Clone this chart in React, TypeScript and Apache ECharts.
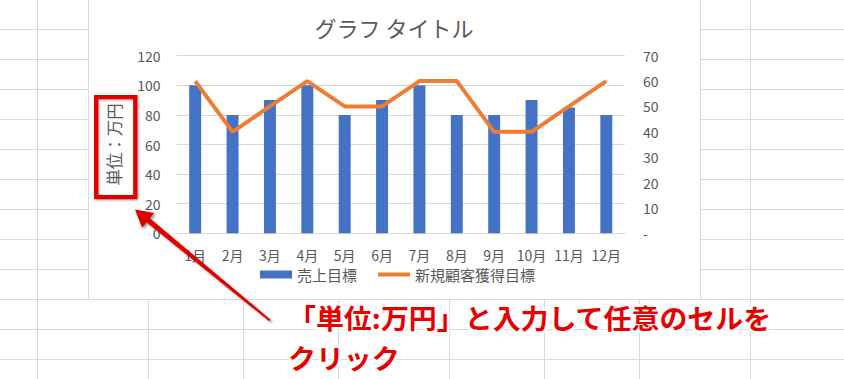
import React, { useEffect, useRef } from "react";
import * as echarts from "echarts";

// ---- data ----
const months = ["1月", "2月", "3月", "4月", "5月", "6月", "7月", "8月", "9月", "10月", "11月", "12月"];
const seriesNames = ["売上目標", "新規顧客獲得目標"];
const salesTarget = [100, 80, 90, 100, 80, 90, 100, 80, 80, 90, 85, 80];
const newCustomerTarget = [60, 40, 50, 60, 50, 50, 60, 60, 40, 40, 50, 60];
const leftTickLabels = ["0", "20", "40", "60", "80", "100", "120"];
const rightTickLabels = ["-", "10", "20", "30", "40", "50", "60", "70"];
const chartTitle = "グラフ タイトル";
const axisTitle = "単位：万円";
const noteLines = ["「単位:万円」と入力して任意のセルを", "クリック"];

// ---- layout (decoration: spreadsheet grid) ----
const sheetRows = [29.5, 59.5, 89.5, 119.5, 149.5, 179.5, 209.5, 239.5, 269.5, 299.5, 329.5, 359.5];
const sheetCols = [37.5, 148.5, 243.5, 338.5, 449.5, 544.5, 639.5, 750.5];

const FONT = '"Noto Sans CJK JP", "Noto Sans", sans-serif';
const GRAY = "#595959";

function arrowPoints(tail: number[], tip: number[], tailW: number, baseW: number, headLen: number, headW: number) {
  const dx = tip[0] - tail[0];
  const dy = tip[1] - tail[1];
  const L = Math.sqrt(dx * dx + dy * dy);
  const ux = dx / L, uy = dy / L;
  const nx = -uy, ny = ux;
  const bx = tip[0] - ux * headLen, by = tip[1] - uy * headLen;
  return [
    [tail[0] + nx * tailW, tail[1] + ny * tailW],
    [bx + nx * baseW, by + ny * baseW],
    [bx + nx * headW, by + ny * headW],
    [tip[0], tip[1]],
    [bx - nx * headW, by - ny * headW],
    [bx - nx * baseW, by - ny * baseW],
    [tail[0] - nx * tailW, tail[1] - ny * tailW],
  ];
}

export default function App() {
  const ref = useRef<HTMLDivElement>(null);
  useEffect(() => {
    if (!ref.current) return;
    const chart = echarts.init(ref.current, undefined, { renderer: "svg" });

    const bg: any[] = [];
    sheetRows.forEach((y) =>
      bg.push({ type: "line", z: -10, shape: { x1: 0, y1: y, x2: 844, y2: y }, style: { stroke: "#dadada", lineWidth: 1 } })
    );
    sheetCols.forEach((x) =>
      bg.push({ type: "line", z: -10, shape: { x1: x, y1: 0, x2: x, y2: 379 }, style: { stroke: "#dadada", lineWidth: 1 } })
    );
    bg.push({
      type: "rect",
      z: -9,
      shape: { x: 88.5, y: -5, width: 612, height: 304.5 },
      style: { fill: "#ffffff", stroke: "#d9d9d9", lineWidth: 1 },
    });

    const arrow = arrowPoints([270, 320.5], [135, 209.5], 1, 2.6, 17, 9.5);

    const fg: any[] = [
      {
        type: "rect",
        z: 100,
        shape: { x: 96.2, y: 97.2, width: 39.1, height: 100 },
        style: {
          fill: "none",
          stroke: "#e00000",
          lineWidth: 4.3,
          shadowColor: "rgba(0,0,0,0.35)",
          shadowBlur: 2,
          shadowOffsetX: 1,
          shadowOffsetY: 1,
        },
      },
      {
        type: "polygon",
        z: 100,
        shape: { points: arrow },
        style: {
          fill: "#dd0000",
          shadowColor: "rgba(0,0,0,0.45)",
          shadowBlur: 2,
          shadowOffsetX: 1.5,
          shadowOffsetY: 1.5,
        },
      },
      {
        type: "text",
        z: 100,
        x: 288,
        y: 297.5,
        scaleX: 1.035,
        style: {
          text: noteLines.join("\n"),
          fontFamily: FONT,
          fontSize: 27,
          fontWeight: "bold",
          lineHeight: 39.5,
          fill: "#e60000",
          stroke: "#ffffff",
          lineWidth: 5,
          strokeFirst: true,
          verticalAlign: "top",
          align: "left",
          shadowColor: "rgba(0,0,0,0.4)",
          shadowBlur: 3,
          shadowOffsetX: 2,
          shadowOffsetY: 2,
        },
      },
    ];

    chart.setOption({
      animation: false,
      backgroundColor: "#ffffff",
      textStyle: { fontFamily: FONT },
      title: {
        text: chartTitle,
        left: 394,
        top: 16,
        padding: 0,
        textAlign: "center",
        textStyle: { fontFamily: FONT, fontSize: 22, fontWeight: "normal", color: GRAY },
      },
      legend: {
        left: 260,
        top: 267,
        padding: 0,
        itemWidth: 32,
        itemHeight: 8,
        itemGap: 21,
        textStyle: { fontFamily: FONT, fontSize: 15, color: GRAY },
        data: [
          { name: seriesNames[0], icon: "rect" },
          { name: seriesNames[1], icon: "path://M0 0 M0 8 M0 2 L32 2 L32 6 L0 6 Z" },
        ],
      },
      grid: { left: 176.5, right: 219, top: 55.7, bottom: 145.7, containLabel: false },
      xAxis: {
        type: "category",
        data: months,
        axisLine: { show: true, lineStyle: { color: "#d9d9d9", width: 1 } },
        axisTick: { show: false },
        axisLabel: { color: GRAY, fontSize: 14, margin: 15, fontFamily: FONT, interval: 0 },
      },
      yAxis: [
        {
          type: "value",
          min: 0,
          max: 120,
          interval: 20,
          name: axisTitle,
          nameLocation: "middle",
          nameRotate: 90,
          nameGap: 54,
          nameTextStyle: { color: GRAY, fontSize: 16.5, fontFamily: FONT },
          axisLine: { show: false },
          axisTick: { show: false },
          axisLabel: {
            color: GRAY,
            fontSize: 14,
            margin: 16,
            fontFamily: FONT,
            formatter: (v: number) => leftTickLabels[Math.round(v / 20)] ?? String(v),
          },
          splitLine: { show: true, lineStyle: { color: "#d9d9d9", width: 1 } },
        },
        {
          type: "value",
          position: "right",
          min: 0,
          max: 70,
          interval: 10,
          axisLine: { show: false },
          axisTick: { show: false },
          axisLabel: {
            color: GRAY,
            fontSize: 14,
            margin: 18,
            fontFamily: FONT,
            formatter: (v: number) => rightTickLabels[Math.round(v / 10)] ?? String(v),
          },
          splitLine: { show: false },
        },
      ],
      series: [
        {
          name: seriesNames[0],
          type: "bar",
          data: salesTarget,
          barWidth: "32%",
          itemStyle: { color: "#4472C4" },
          yAxisIndex: 0,
        },
        {
          name: seriesNames[1],
          type: "line",
          data: newCustomerTarget,
          yAxisIndex: 1,
          symbol: "none",
          lineStyle: { color: "#ED7D31", width: 4 },
          itemStyle: { color: "#ED7D31" },
        },
      ],
      graphic: { elements: [...bg, ...fg] },
    });

    return () => chart.dispose();
  }, []);

  return <div ref={ref} style={{ position: "fixed", left: 0, top: 0, width: 844, height: 379 }} />;
}
